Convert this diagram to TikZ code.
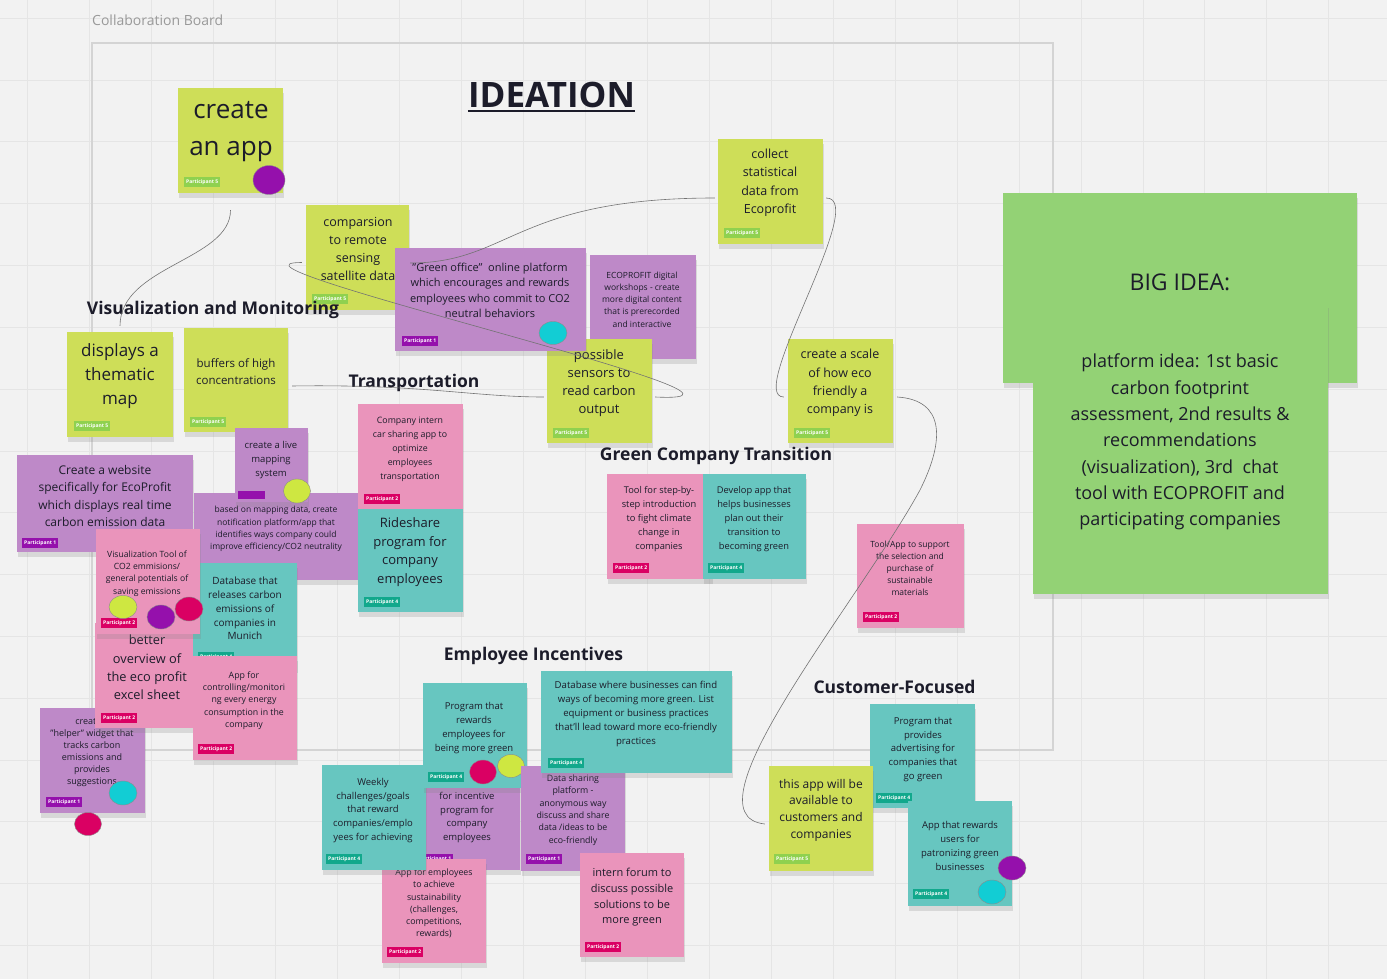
\documentclass[tikz,border=0pt]{standalone}
\usepackage{fontspec}
\setmainfont{Open Sans}
\usetikzlibrary{shapes.geometric, shadows}
\definecolor{board}{HTML}{F2F2F2}
\definecolor{gridc}{HTML}{E5E5E5}
\definecolor{ink}{HTML}{1C1C2A}
\definecolor{lime}{HTML}{CEDE58}
\definecolor{violet}{HTML}{BE89C8}
\definecolor{rose}{HTML}{EA94BB}
\definecolor{teal}{HTML}{67C6C0}
\definecolor{leaf}{HTML}{93D275}
\definecolor{pgreen}{HTML}{8FD14F}
\definecolor{ppurple}{HTML}{9510AC}
\definecolor{pmagenta}{HTML}{DA0063}
\definecolor{pteal}{HTML}{12A88C}
\definecolor{dcyan}{HTML}{12CDD4}
\definecolor{dlime}{HTML}{CEE741}
\newcommand{\fsz}[2]{\fontsize{#1}{#2}\selectfont}

\begin{document}
\begin{tikzpicture}[x=1pt, y=-1pt,
    note/.style={inner sep=0pt, drop shadow={shadow xshift=1pt, shadow yshift=-5pt, opacity=0.22}},
    yel/.style={note, fill=lime},
    vio/.style={note, fill=violet},
    pnk/.style={note, fill=rose},
    tea/.style={note, fill=teal},
    big/.style={note, fill=leaf},
    txt/.style={align=center, inner sep=0pt, text=ink},
    tag/.style={anchor=north west, inner sep=0pt, minimum width=36pt, minimum height=10pt, text=white, font=\fsz{5}{6}\bfseries},
    dot/.style={ellipse, draw=black!45, line width=0.4pt, inner sep=0pt},
    head/.style={font=\fsz{17.5}{20}\bfseries, text=ink, inner sep=0pt},
    link/.style={draw=black!55, line width=0.6pt}
  ]
  \fill[board] (0,0) rectangle (1387,979);
  \useasboundingbox (0,0) rectangle (1387,979);

  % grid and board frame
  \foreach \gx in {0,...,22}
    \draw[gridc, line width=0.8pt] ({27.8+61.95*\gx},0) -- ++(0,979);
  \foreach \gy in {0,...,15}
    \draw[gridc, line width=0.8pt] (0,{18.3+61.8*\gy}) -- ++(1387,0);
  \node[draw=black!17, line width=1.2pt, minimum width=961pt, minimum height=707pt, inner sep=0pt] (frame) at (572.5,396.5) {};

  \node[anchor=west, inner sep=0pt, text=black!40, font=\fsz{14}{17}] (boardname) at (92,20) {Collaboration Board};
  \node[inner sep=0pt, text=ink, font=\fsz{35}{40}\bfseries] (ideation) at (551.5,95) {IDEATION};
  \draw[ink, line width=2.6pt] ([yshift=-3pt]ideation.south west) -- ([yshift=-3pt]ideation.south east);

  % top notes
  \node[yel, minimum width=105pt, minimum height=105pt] (app) at (230.5,140.5) {};
  \node[txt, font=\fsz{26}{37}] (appt) at (231,131.5) {create\\an app};
  \node[tag, fill=pgreen] (appg) at (184,177) {Participant 5};
  \node[dot, fill=ppurple, minimum width=32pt, minimum height=29pt] (appd) at (269,180) {};

  \node[vio, minimum width=106pt, minimum height=104pt] (eco) at (643,307) {};
  \node[txt, font=\fsz{8.5}{12.3}] (ecot) at (642,299.5) {ECOPROFIT digital\\workshops - create\\more digital content\\that is prerecorded\\and interactive};

  \node[yel, minimum width=105pt, minimum height=104pt] (sens) at (599.5,391) {};
  \node[txt, font=\fsz{13}{18}] (senst) at (599,383) {possible\\sensors to\\read carbon\\output};
  \node[tag, fill=pgreen] (sensg) at (553,428) {Participant 5};

  \node[yel, minimum width=103pt, minimum height=105pt] (cmp) at (357.5,257.5) {};
  \node[txt, font=\fsz{12.5}{18.3}] (cmpt) at (358,249) {comparsion\\to remote\\sensing\\satellite data};
  \node[tag, fill=pgreen] (cmpg) at (312,294) {Participant 5};

  \node[vio, minimum width=191pt, minimum height=103pt] (goff) at (490.5,299.5) {};
  \node[txt, font=\fsz{11}{15.5}] (gofft) at (490,290.5) {"Green office"\ \ online platform\\which encourages and rewards\\employees who commit to CO2\\neutral behaviors};
  \node[tag, fill=ppurple] (goffg) at (402,336) {Participant 1};
  \node[dot, fill=dcyan, minimum width=28pt, minimum height=23pt] (goffd) at (553,333) {};

  \node[yel, minimum width=105pt, minimum height=105pt] (coll) at (770.5,191.5) {};
  \node[txt, font=\fsz{12.5}{18.5}] (collt) at (770,183) {collect\\statistical\\data from\\Ecoprofit};
  \node[tag, fill=pgreen] (collg) at (724,228) {Participant 5};

  \node[yel, minimum width=105pt, minimum height=104pt] (scale) at (840.5,391) {};
  \node[txt, font=\fsz{12.5}{18.3}] (scalet) at (840,383) {create a scale\\of how eco\\friendly a\\company is};
  \node[tag, fill=pgreen] (scaleg) at (794,428) {Participant 5};

  % big idea
  \node[big, minimum width=354pt, minimum height=190pt] (bigA) at (1180,288) {};
  \node[txt, font=\fsz{23}{28}] (bigAt) at (1180,282) {BIG IDEA:};
  \node[big, minimum width=295pt, minimum height=291pt] (bigB) at (1180.5,448.5) {};
  \node[txt, font=\fsz{18}{26.3}] (bigBt) at (1180,442) {platform idea: 1st basic\\carbon footprint\\assessment, 2nd results \&\\recommendations\\(visualization), 3rd~ chat\\tool with ECOPROFIT and\\participating companies};

  % visualization and monitoring
  \node[yel, minimum width=106pt, minimum height=105pt] (disp) at (120,384.5) {};
  \node[txt, font=\fsz{17}{24.2}] (dispt) at (120,376) {displays a\\thematic\\map};
  \node[tag, fill=pgreen] (dispg) at (74,421) {Participant 5};

  \node[yel, minimum width=104pt, minimum height=104pt] (buf) at (236,380) {};
  \node[txt, font=\fsz{11.5}{17.3}] (buft) at (236,372) {buffers of high\\concentrations};
  \node[tag, fill=pgreen] (bufg) at (190,417) {Participant 5};

  \node[vio, minimum width=176pt, minimum height=97pt] (web) at (105,503.5) {};
  \node[txt, font=\fsz{12}{17.2}] (webt) at (105,496) {Create a website\\specifically for EcoProfit\\which displays real time\\carbon emission data};
  \node[tag, fill=ppurple] (webg) at (22,538) {Participant 1};

  \node[vio, minimum width=164pt, minimum height=87pt] (based) at (276,536.5) {};
  \node[txt, font=\fsz{8.5}{12.2}] (basedt) at (276,529) {based on mapping data, create\\notification platform/app that\\identifies ways company could\\improve efficiency/CO2 neutrality};

  \node[vio, minimum width=73pt, minimum height=74pt] (live) at (271.5,465) {};
  \node[txt, font=\fsz{9.5}{14.2}] (livet) at (271,460) {create a live\\mapping\\system};
  \node[tag, fill=ppurple, minimum width=27pt, minimum height=8pt] (liveg) at (238,491) {};
  \node[dot, fill=dlime, minimum width=27pt, minimum height=24pt] (lived) at (297,491) {};

  \node[vio, minimum width=105pt, minimum height=105pt] (help) at (92.5,760.5) {};
  \node[txt, font=\fsz{9}{12.1}] (helpt) at (92,752.5) {create a\\"helper" widget that\\tracks carbon\\emissions and\\provides\\suggestions};
  \node[tag, fill=ppurple] (helpg) at (46,797) {Participant 1};
  \node[dot, fill=dcyan, minimum width=28pt, minimum height=24pt] (helpd) at (123,793) {};
  \node[dot, fill=pmagenta, minimum width=27pt, minimum height=23pt] (helpe) at (88,824) {};

  \node[pnk, minimum width=105pt, minimum height=105pt] (better) at (147.5,675.5) {};
  \node[txt, font=\fsz{12.8}{18.3}] (bettert) at (147,667.5) {better\\overview of\\the eco profit\\excel sheet};
  \node[tag, fill=pmagenta] (betterg) at (101,713) {Participant 2};

  \node[tea, minimum width=104pt, minimum height=105pt] (dbm) at (245,615.5) {};
  \node[txt, font=\fsz{10}{13.8}] (dbmt) at (245,608.5) {Database that\\releases carbon\\emissions of\\companies in\\Munich};
  \node[tag, fill=pteal] (dbmg) at (198,652) {Participant 4};

  \node[pnk, minimum width=104pt, minimum height=105pt] (vis) at (148,581.5) {};
  \node[txt, font=\fsz{8.6}{12.4}] (vist) at (147,573.5) {Visualization Tool of\\CO2 emmisions/\\general potentials of\\saving emissions};
  \node[tag, fill=pmagenta] (visg) at (101,618) {Participant 2};
  \node[dot, fill=dlime, minimum width=28pt, minimum height=23pt] (visd) at (123,607) {};
  \node[dot, fill=ppurple, minimum width=28pt, minimum height=24pt] (vise) at (161,617) {};
  \node[dot, fill=pmagenta, minimum width=28pt, minimum height=24pt] (visf) at (189,609) {};

  \node[pnk, minimum width=104pt, minimum height=104pt] (ctrl) at (245,708) {};
  \node[txt, font=\fsz{8.8}{12.3}] (ctrlt) at (244,700.5) {App for\\controlling/monitori\\ng every energy\\consumption in the\\company};
  \node[tag, fill=pmagenta] (ctrlg) at (198,744) {Participant 2};

  % transportation
  \node[pnk, minimum width=105pt, minimum height=105pt] (car) at (410.5,456.5) {};
  \node[txt, font=\fsz{8.8}{14}] (cart) at (410,449) {Company intern\\car sharing app to\\optimize\\employees\\transportation};
  \node[tag, fill=pmagenta] (carg) at (364,494) {Participant 2};

  \node[tea, minimum width=105pt, minimum height=103pt] (ride) at (410.5,560.5) {};
  \node[txt, font=\fsz{13}{18.5}] (ridet) at (410,552) {Rideshare\\program for\\company\\employees};
  \node[tag, fill=pteal] (rideg) at (364,597) {Participant 4};

  % green company transition
  \node[pnk, minimum width=105pt, minimum height=105pt] (climate) at (659.5,526.5) {};
  \node[txt, font=\fsz{9.3}{14}] (climatet) at (659,519) {Tool for step-by-\\step introduction\\to fight climate\\change in\\companies};
  \node[tag, fill=pmagenta] (climateg) at (613,563) {Participant 2};

  \node[tea, minimum width=103pt, minimum height=105pt] (dev) at (754.5,526.5) {};
  \node[txt, font=\fsz{9.3}{14}] (devt) at (754,519) {Develop app that\\helps businesses\\plan out their\\transition to\\becoming green};
  \node[tag, fill=pteal] (devg) at (708,563) {Participant 4};

  \node[pnk, minimum width=107pt, minimum height=104pt] (mat) at (910.5,576) {};
  \node[txt, font=\fsz{8.5}{12}] (matt) at (910,568.5) {Tool/App to support\\the selection and\\purchase of\\sustainable\\materials};
  \node[tag, fill=pmagenta] (matg) at (863,612) {Participant 2};

  % employee incentives
  \node[vio, minimum width=105pt, minimum height=105pt] (inc) at (467.5,817.5) {};
  \node[txt, font=\fsz{9.5}{13.7}] (inct) at (467,817.5) {for incentive\\program for\\company\\employees};
  \node[tag, fill=ppurple] (incg) at (417,854) {Participant 1};

  \node[pnk, minimum width=104pt, minimum height=104pt] (appemp) at (434,911) {};
  \node[txt, font=\fsz{8.8}{12.3}] (appempt) at (434,903.5) {App for employees\\to achieve\\sustainability\\(challenges,\\competitions,\\rewards)};
  \node[tag, fill=pmagenta] (appempg) at (387,947) {Participant 2};

  \node[tea, minimum width=104pt, minimum height=105pt] (week) at (374,817.5) {};
  \node[txt, font=\fsz{9.5}{13.8}] (weekt) at (373,810.5) {Weekly\\challenges/goals\\that reward\\companies/emplo\\yees for achieving};
  \node[tag, fill=pteal] (weekg) at (326,854) {Participant 4};

  \node[tea, minimum width=104pt, minimum height=105pt] (rew) at (475,735.5) {};
  \node[txt, font=\fsz{9.5}{14}] (rewt) at (474,728) {Program that\\rewards\\employees for\\being more green};
  \node[tag, fill=pteal] (rewg) at (428,772) {Participant 4};
  \node[dot, fill=pmagenta, minimum width=27pt, minimum height=24pt] (rewd) at (483,772) {};
  \node[dot, fill=dlime, minimum width=27pt, minimum height=23pt] (rewe) at (511,766) {};

  \node[vio, minimum width=104pt, minimum height=105pt] (share) at (573,818.5) {};
  \node[txt, font=\fsz{8.8}{12.3}] (sharet) at (573,810) {Data sharing\\platform -\\anonymous way\\discuss and share\\data /ideas to be\\eco-friendly};
  \node[tag, fill=ppurple] (shareg) at (526,854) {Participant 1};

  \node[tea, minimum width=191pt, minimum height=102pt] (dbw) at (636.5,722) {};
  \node[txt, font=\fsz{9.6}{13.8}] (dbwt) at (636,714) {Database where businesses can find\\ways of becoming more green. List\\equipment or business practices\\that'll lead toward more eco-friendly\\practices};
  \node[tag, fill=pteal] (dbwg) at (548,758) {Participant 4};

  \node[pnk, minimum width=104pt, minimum height=104pt] (forum) at (632,905) {};
  \node[txt, font=\fsz{11}{15.7}] (forumt) at (632,897.5) {intern forum to\\discuss possible\\solutions to be\\more green};
  \node[tag, fill=pmagenta] (forumg) at (585,942) {Participant 2};

  % customer-focused
  \node[tea, minimum width=105pt, minimum height=104pt] (adv) at (922.5,756) {};
  \node[txt, font=\fsz{9.5}{13.8}] (advt) at (923,749.5) {Program that\\provides\\advertising for\\companies that\\go green};
  \node[tag, fill=pteal] (advg) at (876,793) {Participant 4};

  \node[yel, minimum width=104pt, minimum height=105pt] (cust) at (821,818.5) {};
  \node[txt, font=\fsz{12}{16.7}] (custt) at (821,810) {this app will be\\available to\\customers and\\companies};
  \node[tag, fill=pgreen] (custg) at (774,854) {Participant 5};

  \node[tea, minimum width=104pt, minimum height=105pt] (patr) at (960,853.5) {};
  \node[txt, font=\fsz{9.5}{14}] (patrt) at (960,846) {App that rewards\\users for\\patronizing green\\businesses};
  \node[tag, fill=pteal] (patrg) at (913,889) {Participant 4};
  \node[dot, fill=ppurple, minimum width=28pt, minimum height=24pt] (patrd) at (1012,868) {};
  \node[dot, fill=dcyan, minimum width=28pt, minimum height=24pt] (patre) at (992,892) {};

  % headings
  \node[head] (hvis) at (213,310) {Visualization and Monitoring};
  \node[head] (htra) at (414,383) {Transportation};
  \node[head] (hgct) at (716,456) {Green Company Transition};
  \node[head] (hemp) at (533.5,656) {Employee Incentives};
  \node[head] (hcus) at (894.5,687) {Customer-Focused};

  % connectors
  \draw[link] ([yshift=-17pt]app.south) .. controls +(0,50) and +(0,-60) .. ([yshift=6pt]disp.north);
  \draw[link] ([shift={(-4,5)}]cmp.west) .. controls +(-110,0) and +(165,8) .. ([shift={(3,6)}]sens.east);
  \draw[link] ([shift={(1,5.5)}]cmp.east) .. controls +(100,0) and +(-200,0) .. ([shift={(-3,6.5)}]coll.west);
  \draw[link] ([shift={(4,6)}]buf.east) .. controls +(130,-2) and +(-70,0) .. ([shift={(-3,6)}]sens.west);
  \draw[link] ([shift={(3,6.5)}]coll.east) .. controls +(44,0) and +(-39,0) .. ([shift={(-4,6)}]scale.west);
  \draw[link] ([shift={(4,6)}]scale.east) .. controls (945,400) and (945,440) .. (920,490)
    .. controls (860,600) and (680,815) .. ([shift={(-4,5.5)}]cust.west);
\end{tikzpicture}
\end{document}
